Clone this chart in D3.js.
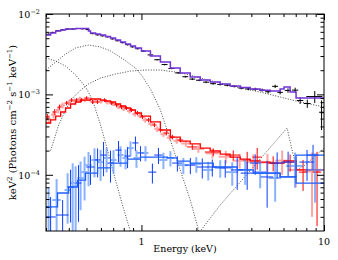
<!DOCTYPE html>
<html>
<head>
<meta charset="utf-8">
<script src="https://cdn.jsdelivr.net/npm/d3@7"></script>
<style>
  body { margin: 0; background: #fff; overflow: hidden; }
  svg { display: block; }
  text { font-family: 'DejaVu Serif', serif; fill: #000; }
</style>
</head>
<body>
<svg width="338" height="260"></svg>
<script>
// ---- data (energy in keV, flux in keV^2 photons cm^-2 s^-1 keV^-1) ----
// top spectrum: black data + purple model
const blackE  = [0.31,0.326,0.348,0.37,0.394,0.42,0.447,0.476,0.507,0.54,0.575,0.612,0.652,0.694,0.739,0.787,0.838,0.893,0.951,1.025,1.12,1.22,1.34,1.46,1.59,1.74,1.90,2.07,2.26,2.47,2.70,2.95,3.22,3.52,3.85,4.20,4.58,4.94,5.40,5.75,6.35,6.95,7.40,8.10,8.90,9.70]
const blackdE = [0.008,0.008,0.009,0.009,0.01,0.011,0.012,0.012,0.013,0.014,0.015,0.016,0.017,0.018,0.019,0.02,0.022,0.023,0.025,0.03,0.04,0.045,0.05,0.055,0.06,0.065,0.07,0.08,0.085,0.09,0.1,0.11,0.12,0.13,0.14,0.16,0.17,0.18,0.2,0.2,0.25,0.27,0.3,0.35,0.9,0.3]
const blackF  = [5.6e-3,5.9e-3,6.2e-3,6.35e-3,6.5e-3,6.5e-3,6.6e-3,6.55e-3,6.4e-3,5.7e-3,5.5e-3,5.35e-3,5.2e-3,4.9e-3,4.65e-3,4.4e-3,4.15e-3,3.9e-3,3.7e-3,3.45e-3,3.1e-3,2.7e-3,2.35e-3,2.1e-3,1.85e-3,1.66e-3,1.55e-3,1.5e-3,1.42e-3,1.36e-3,1.33e-3,1.3e-3,1.26e-3,1.2e-3,1.17e-3,1.16e-3,1.13e-3,1.08e-3,1.26e-3,1.06e-3,1.12e-3,1.13e-3,8.4e-4,7.7e-4,9.4e-4,6.0e-4]
const blackdF = [1.2e-4,1.1e-4,1e-4,1e-4,1e-4,1e-4,1e-4,1e-4,1e-4,0.9e-4,0.9e-4,0.9e-4,0.9e-4,0.8e-4,0.8e-4,0.8e-4,0.8e-4,0.7e-4,0.7e-4,0.7e-4,0.6e-4,0.5e-4,0.5e-4,0.4e-4,0.4e-4,0.4e-4,0.4e-4,0.4e-4,0.4e-4,0.4e-4,0.4e-4,0.4e-4,0.4e-4,0.45e-4,0.45e-4,0.5e-4,0.5e-4,0.55e-4,0.6e-4,0.6e-4,0.7e-4,0.8e-4,0.8e-4,0.9e-4,1.6e-4,2.4e-4]
const purpleEdges = [0.3,0.318,0.339,0.361,0.384,0.436,0.513,0.526,0.561,0.597,0.636,0.677,0.721,0.768,0.818,0.871,0.927,1.0,1.12,1.27,1.44,1.63,1.85,2.10,2.38,2.70,3.06,3.48,3.94,4.47,5.07,5.75,6.04,6.52,7.03,10]
const purpleVals  = [5.48e-3,5.80e-3,6.14e-3,6.32e-3,6.51e-3,6.60e-3,6.14e-3,5.80e-3,5.64e-3,5.48e-3,5.25e-3,5.03e-3,4.75e-3,4.48e-3,4.24e-3,4.00e-3,3.78e-3,3.47e-3,3.00e-3,2.53e-3,2.13e-3,1.85e-3,1.65e-3,1.51e-3,1.43e-3,1.35e-3,1.27e-3,1.22e-3,1.17e-3,1.13e-3,1.10e-3,1.17e-3,1.24e-3,1.07e-3,9.02e-4]

// middle spectrum: red
const redE  = [0.306,0.335,0.356,0.389,0.414,0.441,0.470,0.501,0.540,0.575,0.628,0.686,0.730,0.778,0.828,0.882,0.951,1.013,1.092,1.178,1.270,1.369,1.477,1.634,1.899,2.474,3.183,3.795,4.305,5.265,6.52,7.68,9.16]
const reddE = [0.008,0.009,0.009,0.01,0.011,0.012,0.012,0.013,0.014,0.015,0.017,0.018,0.02,0.021,0.022,0.024,0.026,0.028,0.03,0.033,0.035,0.04,0.045,0.06,0.12,0.25,0.3,0.2,0.25,0.35,0.5,0.4,0.5]
const redF  = [5.24e-4,6.04e-4,6.97e-4,7.8e-4,8.5e-4,8.5e-4,8.5e-4,9.0e-4,8.04e-4,8.04e-4,8.5e-4,7.8e-4,7.38e-4,6.97e-4,6.77e-4,6.4e-4,5.87e-4,5.24e-4,4.81e-4,4.16e-4,3.61e-4,3.31e-4,2.95e-4,2.71e-4,2.22e-4,1.92e-4,1.76e-4,1.53e-4,1.66e-4,1.40e-4,1.44e-4,1.08e-4,1.08e-4]
const reddF = [0.45e-4,0.5e-4,0.5e-4,0.5e-4,0.5e-4,0.5e-4,0.5e-4,0.5e-4,0.45e-4,0.45e-4,0.45e-4,0.4e-4,0.4e-4,0.4e-4,0.35e-4,0.35e-4,0.35e-4,0.3e-4,0.3e-4,0.25e-4,0.25e-4,0.22e-4,0.2e-4,0.18e-4,0.18e-4,0.2e-4,0.25e-4,0.4e-4,0.5e-4,0.3e-4,0.35e-4,0.45e-4,0.85e-4]
const red2E  = [0.31,0.33,0.35,0.37,0.4,0.43,0.46,0.49,0.52,0.56,0.6,0.65,0.7,0.75,0.8,0.86,0.92,0.98,1.05,1.13,1.22,1.32,1.43,1.56,1.75,2.05,2.45,2.9,3.45,4.1,4.9,5.9,7.0,8.6]
const red2dE = [0.01,0.01,0.01,0.011,0.012,0.013,0.014,0.015,0.016,0.017,0.018,0.02,0.022,0.023,0.025,0.027,0.03,0.03,0.035,0.04,0.045,0.05,0.055,0.065,0.1,0.15,0.2,0.25,0.3,0.35,0.45,0.5,0.6,0.9]
const red2F  = [4.9e-4,5.6e-4,6.4e-4,7.3e-4,7.9e-4,8.3e-4,8.8e-4,8.6e-4,8.7e-4,8.3e-4,8.2e-4,8.0e-4,7.6e-4,7.0e-4,6.6e-4,6.2e-4,5.7e-4,5.4e-4,4.8e-4,4.3e-4,3.7e-4,3.2e-4,2.9e-4,2.65e-4,2.45e-4,2.1e-4,1.85e-4,1.68e-4,1.5e-4,1.45e-4,1.42e-4,1.5e-4,1.15e-4,1.1e-4]
const red2dF = [0.6e-4,0.6e-4,0.6e-4,0.6e-4,0.6e-4,0.55e-4,0.55e-4,0.55e-4,0.55e-4,0.5e-4,0.5e-4,0.5e-4,0.45e-4,0.45e-4,0.4e-4,0.4e-4,0.4e-4,0.35e-4,0.35e-4,0.3e-4,0.3e-4,0.25e-4,0.25e-4,0.22e-4,0.22e-4,0.22e-4,0.25e-4,0.3e-4,0.3e-4,0.35e-4,0.4e-4,0.5e-4,0.45e-4,0.8e-4]
const redEdges = [0.3,0.318,0.339,0.361,0.384,0.409,0.436,0.464,0.526,0.597,0.636,0.677,0.721,0.768,0.818,0.871,0.927,1.0,1.12,1.27,1.44,1.63,1.85,2.10,2.38,2.70,3.06,3.48,3.94,4.47,5.07,6.04,7.03,10]
const redVals  = [4.41e-4,4.81e-4,5.38e-4,6.04e-4,6.77e-4,7.6e-4,8.04e-4,8.5e-4,8.77e-4,8.5e-4,8.28e-4,8.04e-4,7.6e-4,7.17e-4,6.77e-4,6.4e-4,5.87e-4,5.38e-4,4.54e-4,3.61e-4,2.95e-4,2.63e-4,2.42e-4,2.15e-4,1.98e-4,1.81e-4,1.66e-4,1.57e-4,1.49e-4,1.44e-4,1.40e-4,1.49e-4,1.15e-4]

// bottom spectrum: blue
const blueE  = [0.318,0.370,0.409,0.452,0.526,0.575,0.620,0.677,0.749,0.839,0.927,0.988,1.148,1.239,1.573,1.853,2.154,2.443,2.877,3.346,3.795,4.198,4.881,5.538,6.359,8.074,8.710]
const bluedE = [0.021,0.029,0.016,0.017,0.027,0.022,0.024,0.026,0.029,0.032,0.036,0.038,0.059,0.064,0.10,0.12,0.14,0.16,0.23,0.26,0.30,0.27,0.38,0.43,0.50,0.74,0.68]
const blueF  = [2.99e-5,3.16e-5,7.05e-5,7.9e-5,1.25e-4,1.53e-4,1.76e-4,1.40e-4,2.03e-4,1.71e-4,2.49e-4,1.87e-4,1.08e-4,1.76e-4,1.40e-4,1.32e-4,1.25e-4,1.25e-4,1.22e-4,1.15e-4,1.05e-4,1.40e-4,9.4e-5,1.40e-4,1.44e-4,1.44e-4,1.76e-4]
const bluedF = [2.3e-5,1.7e-5,4.5e-5,5.3e-5,5e-5,6e-5,8e-5,6e-5,6e-5,5e-5,5e-5,4e-5,3e-5,4e-5,3e-5,3e-5,3.5e-5,3e-5,3e-5,5e-5,4e-5,4e-5,5.5e-5,5e-5,5e-5,6e-5,6e-5]
const blue2E  = [0.310,0.343,0.394,0.420,0.436,0.464,0.488,0.513,0.553,0.597,0.644,0.703,0.768,0.818,0.871,0.939,1.052,1.319,1.441,1.696,1.998,2.323,2.702,3.143,3.701,4.470,5.400,6.944,8.932]
const blue2dE = [0.012,0.018,0.015,0.011,0.011,0.018,0.019,0.020,0.021,0.023,0.025,0.027,0.030,0.031,0.034,0.036,0.041,0.068,0.074,0.11,0.13,0.15,0.18,0.25,0.29,0.35,0.42,0.74,0.95]
const blue2F  = [3.98e-5,4.86e-5,6.47e-5,7.9e-5,7.26e-5,9.13e-5,1.08e-4,1.32e-4,1.53e-4,1.44e-4,1.62e-4,1.53e-4,1.76e-4,1.62e-4,2.15e-4,1.62e-4,1.87e-4,1.53e-4,1.62e-4,1.32e-4,1.36e-4,1.15e-4,1.22e-4,1.08e-4,1.15e-4,1.08e-4,9.13e-5,1.29e-4,1.15e-4]
const blue2dF = [3e-5,4e-5,4e-5,6e-5,5.5e-5,5.5e-5,6e-5,6e-5,6e-5,6e-5,5.5e-5,5e-5,5e-5,4.5e-5,4.5e-5,4e-5,4e-5,3.5e-5,3.5e-5,3e-5,3e-5,3e-5,3e-5,3.5e-5,4e-5,4e-5,4.5e-5,6e-5,7e-5]
const blueEdges = [0.3,0.347,0.399,0.447,0.494,0.575,0.677,0.839,0.987,1.387,1.573,1.853,2.474,3.346,4.093,5.75,7.03,10]
const blueVals  = [3.98e-5,5.94e-5,7.05e-5,8.6e-5,1.05e-4,1.22e-4,1.40e-4,1.57e-4,1.66e-4,1.62e-4,1.48e-4,1.40e-4,1.25e-4,1.15e-4,1.05e-4,9.4e-5,7.9e-5]
const blue2Edges = [4.093,5.75,7.03,10]
const blue2Vals  = [1.05e-4,9.4e-5,1.76e-4]

// model components (dotted)
const comp1E = [0.3,0.339,0.384,0.436,0.494,0.540,0.597,0.652,0.721,0.787,0.882]
const comp1F = [2.84e-3,2.60e-3,2.25e-3,1.74e-3,1.24e-3,8.5e-4,4.16e-4,2.03e-4,8.6e-5,4.21e-5,1.78e-5]
const comp2E = [0.3,0.339,0.384,0.436,0.513,0.597,0.677,0.807,0.927,1.0,1.12,1.27,1.44,1.63,1.85,2.07]
const comp2F = [2.01e-3,2.53e-3,3.18e-3,3.78e-3,4.11e-3,3.89e-3,3.47e-3,2.68e-3,2.13e-3,1.74e-3,1.17e-3,6.4e-4,2.71e-4,1.15e-4,4.86e-5,1.94e-5]
const comp3E = [0.318,0.352,0.384,0.42,0.464,0.513,0.597,0.721,0.871,1.052,1.27,1.534,1.85,2.295,2.877,3.48,4.47,5.75,7.40,10]
const comp3F = [2.0e-4,4.16e-4,6.4e-4,9.0e-4,1.13e-3,1.35e-3,1.60e-3,1.79e-3,1.95e-3,2.01e-3,2.01e-3,1.90e-3,1.74e-3,1.51e-3,1.35e-3,1.20e-3,1.07e-3,9.28e-4,8.04e-4,6.97e-4]
const comp4E = [2.0,2.70,3.48,4.47,5.75,6.28,6.685,7.12,7.87,8.93,10]
const comp4F = [1.72e-5,4.21e-5,8.14e-5,1.57e-4,3.04e-4,3.82e-4,2.03e-4,1.15e-4,1.32e-4,1.71e-4,2.15e-4]

// ticks
const xMajor = [1, 10]
const xMinor = [0.3,0.4,0.5,0.6,0.7,0.8,0.9,2,3,4,5,6,7,8,9]
const yMajor = [1e-4, 1e-3, 1e-2]
const yMajorExp = ['\u22124', '\u22123', '\u22122']
const yMinor = [3e-5,4e-5,5e-5,6e-5,7e-5,8e-5,9e-5,2e-4,3e-4,4e-4,5e-4,6e-4,7e-4,8e-4,9e-4,2e-3,3e-3,4e-3,5e-3,6e-3,7e-3,8e-3,9e-3]

// ---- chart ----
const svg = d3.select('svg')
const width = +svg.attr('width')
const height = +svg.attr('height')
const margin = {top: 14, right: 14, bottom: 29, left: 46}
const innerWidth = width - margin.left - margin.right
const innerHeight = height - margin.top - margin.bottom
const mainGroup = svg.append('g')
    .attr('transform', `translate(${margin.left}, ${margin.top})`)

const xScale = d3.scaleLog().domain([0.3, 10]).range([0, innerWidth])
const yScale = d3.scaleLog().domain([2e-5, 1e-2]).range([innerHeight, 0])

svg.append('defs').append('clipPath').attr('id', 'clip')
    .append('rect').attr('width', innerWidth).attr('height', innerHeight)
const plot = mainGroup.append('g').attr('clip-path', 'url(#clip)')

// dotted model components
const compLine = d3.line().x(d => xScale(d[0])).y(d => yScale(d[1]))
;[[comp1E, comp1F], [comp2E, comp2F], [comp3E, comp3F], [comp4E, comp4F]].forEach(([E, F]) => {
    plot.append('path')
        .attr('d', compLine(E.map((e, i) => [e, F[i]])))
        .attr('fill', 'none')
        .attr('stroke', '#333')
        .attr('stroke-width', 0.9)
        .attr('stroke-dasharray', '1,1.6')
})

function drawCrosses(E, dE, F, dF, color, sw, op) {
    const data = E.map((e, i) => ({e: e, de: dE[i], f: F[i], df: dF[i]}))
    const grp = plot.append('g').attr('stroke', color).attr('stroke-width', sw).attr('opacity', op)
    grp.selectAll('line.h').data(data).join('line').attr('class', 'h')
        .attr('x1', d => xScale(d.e - d.de)).attr('x2', d => xScale(d.e + d.de))
        .attr('y1', d => yScale(d.f)).attr('y2', d => yScale(d.f))
    grp.selectAll('line.v').data(data).join('line').attr('class', 'v')
        .attr('x1', d => xScale(d.e)).attr('x2', d => xScale(d.e))
        .attr('y1', d => yScale(Math.max(d.f - d.df, 1e-7))).attr('y2', d => yScale(d.f + d.df))
}

const stepLine = d3.line().curve(d3.curveStepAfter).x(d => xScale(d[0])).y(d => yScale(d[1]))
function drawModel(edges, vals, color, sw) {
    const pts = edges.map((e, i) => [e, vals[Math.min(i, vals.length - 1)]])
    plot.append('path').attr('d', stepLine(pts))
        .attr('fill', 'none').attr('stroke', color).attr('stroke-width', sw)
}

drawCrosses(red2E, red2dE, red2F, red2dF, '#ff5a5a', 2, 0.55)
drawCrosses(redE, reddE, redF, reddF, '#ff0000', 1, 1)
drawModel(redEdges, redVals, '#ff0000', 1.3)

drawCrosses(blue2E, blue2dE, blue2F, blue2dF, '#5a92ff', 2, 0.7)
drawCrosses(blueE, bluedE, blueF, bluedF, '#0a3cff', 1, 1)
drawModel(blueEdges, blueVals, '#1f5fff', 1.3)
drawModel(blue2Edges, blue2Vals, '#1f5fff', 1.3)

drawCrosses(blackE, blackdE, blackF, blackdF, '#000', 1, 1)
drawModel(purpleEdges, purpleVals, '#7133d6', 1.5)

// frame
mainGroup.append('rect').attr('width', innerWidth).attr('height', innerHeight)
    .attr('fill', 'none').attr('stroke', '#000').attr('stroke-width', 1)

// ticks (inward on all four sides)
function ticks(axisFn, vals, scale, len, transform) {
    const a = mainGroup.append('g').attr('transform', transform)
        .call(axisFn(scale).tickValues(vals).tickSize(-len).tickFormat(''))
    a.select('.domain').remove()
    a.selectAll('text').remove()
    a.selectAll('line').attr('stroke', '#000')
}
ticks(d3.axisBottom, xMinor, xScale, 3, `translate(0, ${innerHeight})`)
ticks(d3.axisBottom, xMajor, xScale, 6, `translate(0, ${innerHeight})`)
ticks(d3.axisTop, xMinor, xScale, 3, 'translate(0, 0)')
ticks(d3.axisTop, xMajor, xScale, 6, 'translate(0, 0)')
ticks(d3.axisLeft, yMinor, yScale, 3.5, 'translate(0, 0)')
ticks(d3.axisLeft, yMajor, yScale, 7, 'translate(0, 0)')
ticks(d3.axisRight, yMinor, yScale, 3.5, `translate(${innerWidth}, 0)`)
ticks(d3.axisRight, yMajor, yScale, 7, `translate(${innerWidth}, 0)`)

// tick labels
mainGroup.selectAll('text.xlab').data(xMajor).join('text')
    .attr('class', 'xlab')
    .attr('x', d => xScale(d))
    .attr('y', innerHeight + 14)
    .attr('text-anchor', 'middle')
    .attr('font-size', 9.5)
    .text(d => d)

const yLabels = mainGroup.selectAll('text.ylab').data(yMajor).join('text')
    .attr('class', 'ylab')
    .attr('x', -6)
    .attr('y', d => yScale(d) + 4)
    .attr('text-anchor', 'end')
    .attr('font-size', 9.5)
yLabels.append('tspan').text('10')
yLabels.append('tspan').attr('dy', -4).attr('font-size', 6.5).text((d, i) => yMajorExp[i])

// axis titles
mainGroup.append('text')
    .attr('x', innerWidth / 2)
    .attr('y', innerHeight + 21)
    .attr('text-anchor', 'middle')
    .attr('font-size', 9.5)
    .text('Energy (keV)')

const yTitle = mainGroup.append('text')
    .attr('transform', 'rotate(-90)')
    .attr('x', -innerHeight / 2)
    .attr('y', -30)
    .attr('text-anchor', 'middle')
    .attr('font-size', 10)
const yParts = [['keV', 0], ['2', 1], [' (Photons cm', 0], ['\u22122', 1], [' s', 0], ['\u22121', 1], [' keV', 0], ['\u22121', 1], [')', 0]]
let up = false
yParts.forEach(([t, sup]) => {
    const ts = yTitle.append('tspan').text(t)
    if (sup && !up) { ts.attr('dy', -4).attr('font-size', 7); up = true }
    else if (sup) { ts.attr('font-size', 7) }
    else if (up) { ts.attr('dy', 4); up = false }
})
</script>
</body>
</html>
